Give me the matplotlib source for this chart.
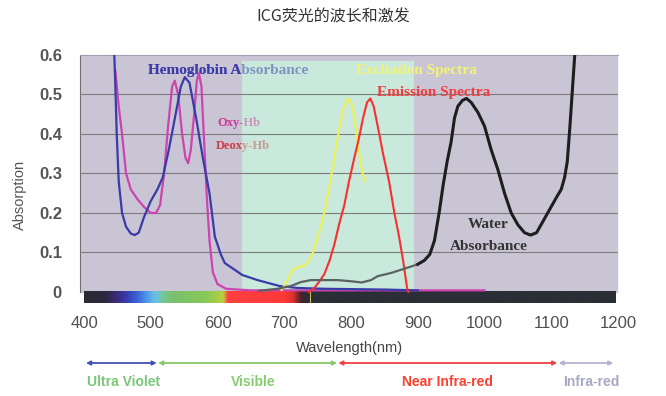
import numpy as np
import matplotlib
matplotlib.use("Agg")
import matplotlib.pyplot as plt
from matplotlib.colors import LinearSegmentedColormap
from matplotlib.patches import Rectangle

plt.rcParams['font.family'] = ['Liberation Sans', 'DejaVu Sans']

# hemoglobin (blue) curve
hb_wl = [445, 447, 449, 452, 457, 463, 470, 476, 482, 490, 500, 510, 518, 527, 535, 545, 551,
         558, 568, 578, 588, 596, 605, 611, 625, 637, 660, 693, 720, 760, 850, 900]
hb_abs = [0.62, 0.52, 0.40, 0.28, 0.20, 0.165, 0.148, 0.144, 0.15, 0.19, 0.23, 0.26, 0.29, 0.36,
          0.43, 0.52, 0.544, 0.53, 0.44, 0.34, 0.25, 0.14, 0.095, 0.073, 0.057, 0.043, 0.03,
          0.015, 0.01, 0.008, 0.006, 0.004]

# oxy-Hb (magenta) curve
oxy_wl = [447, 452, 457, 463, 470, 480, 490, 500, 508, 514, 520, 526, 532, 536, 541, 547, 552,
          556, 560, 565, 569, 572, 576, 580, 584, 588, 593, 600, 613, 650, 1000]
oxy_abs = [0.56, 0.47, 0.40, 0.30, 0.26, 0.235, 0.215, 0.20, 0.20, 0.22, 0.30, 0.42, 0.52, 0.535,
           0.50, 0.40, 0.34, 0.326, 0.36, 0.45, 0.535, 0.555, 0.52, 0.38, 0.24, 0.13, 0.05, 0.02,
           0.008, 0.004, 0.004]

# ICG excitation (yellow)
exc_wl = [696, 705, 712, 720, 730, 738, 745, 752, 760, 768, 775, 782, 788, 795, 800, 805, 810,
          815, 820]
exc_abs = [0.005, 0.03, 0.055, 0.063, 0.066, 0.08, 0.11, 0.15, 0.20, 0.27, 0.34, 0.41, 0.46,
           0.49, 0.48, 0.44, 0.38, 0.32, 0.28]

# ICG emission (red)
emi_wl = [737, 745, 752, 760, 768, 775, 782, 790, 797, 805, 812, 818, 824, 829, 834, 840, 848,
          857, 865, 872, 878, 884, 886]
emi_abs = [0.0, 0.01, 0.025, 0.045, 0.08, 0.12, 0.17, 0.22, 0.28, 0.34, 0.39, 0.44, 0.48, 0.49,
           0.47, 0.42, 0.35, 0.28, 0.20, 0.14, 0.08, 0.01, 0.0]

# water absorbance (gray -> black)
wat_wl = [663, 690, 710, 725, 740, 760, 780, 800, 816, 830, 840, 860, 882, 900, 910, 918, 925,
          932, 938, 944, 950, 955, 960, 967, 973, 980, 990, 1000, 1010, 1020, 1030, 1040, 1050,
          1060, 1069, 1078, 1088, 1098, 1108, 1115, 1120, 1124, 1128, 1132, 1136]
wat_abs = [0.003, 0.008, 0.015, 0.025, 0.03, 0.03, 0.03, 0.027, 0.024, 0.03, 0.04, 0.048, 0.06,
           0.07, 0.08, 0.095, 0.13, 0.20, 0.27, 0.33, 0.38, 0.44, 0.47, 0.485, 0.49, 0.48, 0.455,
           0.42, 0.36, 0.31, 0.25, 0.20, 0.17, 0.15, 0.144, 0.15, 0.18, 0.21, 0.24, 0.26, 0.29,
           0.33, 0.42, 0.52, 0.62]

x_ticks = [400, 500, 600, 700, 800, 900, 1000, 1100, 1200]
y_ticks = [0, 0.1, 0.2, 0.3, 0.4, 0.5, 0.6]
y_ticklabels = ['0', '0.1', '0.2', '0.3', '0.4', '0.5', '0.6']

bands = ['Ultra Violet', 'Visible', 'Near Infra-red', 'Infra-red']
band_start = [403, 511, 781, 1111]
band_end = [509, 779, 1109, 1193]
band_colors = ['#4050b0', '#86c868', '#f04040', '#b4b4d0']
band_text_colors = ['#78c878', '#86cc70', '#ff4030', '#a8a8c4']
band_label_x = [460, 654, 945, 1160]

fig = plt.figure(figsize=(6.66, 3.96), dpi=100)
W, H = 666, 396
ax = fig.add_axes([80 / W, 1 - 303 / H, 538 / W, 248 / H])
ax.set_xlim(394, 1198)
ax.set_ylim(-0.028, 0.6)

# backgrounds
ax.fill_between([394, 1198], 0, 0.6, color='#c9c5d5', zorder=0)
green = Rectangle((637, 0), 895 - 637, 0.585, color='#c8e9dc', lw=0, zorder=3)
ax.add_patch(green)
for yv in y_ticks[1:-1]:
    ax.axhline(yv, color='#7c7c7c', lw=0.8, zorder=3.5)

# hemoglobin labels: full colour on gray, faded where the green band covers them
serif = 'Liberation Serif'
hb_labels = [(496, 0.56, 'Hemoglobin Absorbance', '#3a3aa8', 11),
             (600, 0.428, 'Oxy-Hb', '#d040a0', 9),
             (597, 0.37, 'Deoxy-Hb', '#cc4850', 9)]
for lx, ly, s, c, fs in hb_labels:
    ax.text(lx, ly, s, color=c, fontsize=fs, fontweight='bold', family=serif,
            va='center', zorder=2)
    t = ax.text(lx, ly, s, color=c, fontsize=fs, fontweight='bold', family=serif,
                va='center', zorder=3.6, alpha=0.5)
    t.set_clip_path(green)

# spectrum bar
cmap = LinearSegmentedColormap.from_list('spec', [
    (0.0, '#2a2a35'), ((430 - 400) / 797, '#2c2840'), ((445 - 400) / 797, '#3a2a70'),
    ((460 - 400) / 797, '#3838a8'), ((475 - 400) / 797, '#3a5ad0'), ((490 - 400) / 797, '#4a90e8'),
    ((505 - 400) / 797, '#6ac0e8'), ((515 - 400) / 797, '#70c8a0'), ((530 - 400) / 797, '#78c070'),
    ((580 - 400) / 797, '#88c858'), ((608 - 400) / 797, '#b8d040'), ((614 - 400) / 797, '#ff4040'),
    ((700 - 400) / 797, '#ff3838'), ((712 - 400) / 797, '#e03030'), ((725 - 400) / 797, '#502028'),
    ((735 - 400) / 797, '#2a2e36'), (1.0, '#2a2e36')])
ax.imshow(np.linspace(0, 1, 800)[None, :], cmap=cmap, aspect='auto',
          extent=(400, 1197, -0.028, 0), zorder=4)
ax.plot([738, 738], [-0.028, 0], color='#c8b860', lw=0.8, zorder=5)

# curves
ax.plot(oxy_wl, oxy_abs, color='#cc44b0', lw=1.6, zorder=6)
ax.plot(hb_wl, hb_abs, color='#3a3aa8', lw=1.6, zorder=6)
ax.plot(exc_wl, exc_abs, color='#f0f050', lw=1.5, zorder=6)
ax.plot(emi_wl, emi_abs, color='#f83030', lw=1.5, zorder=6)
k = wat_wl.index(900)
ax.plot(wat_wl[:k + 1], wat_abs[:k + 1], color='#5a6262', lw=1.6, zorder=6)
ax.plot(wat_wl[k:], wat_abs[k:], color='#1e1e1e', lw=2.2, zorder=6)

ax.text(807, 0.562, 'Excitation Spectra', color='#f4f470', fontsize=11, fontweight='bold',
        family=serif, va='center', zorder=7)
ax.text(839, 0.506, 'Emission Spectra', color='#f03c3c', fontsize=11, fontweight='bold',
        family=serif, va='center', zorder=7)
ax.text(1005, 0.17, 'Water', color='#333333', fontsize=11, fontweight='bold',
        family=serif, ha='center', va='center', zorder=7)
ax.text(1007, 0.116, 'Absorbance', color='#333333', fontsize=11, fontweight='bold',
        family=serif, ha='center', va='center', zorder=7)

# axes decoration
for s in ['right', 'bottom']:
    ax.spines[s].set_visible(False)
ax.spines['top'].set_color('#a0a0b0')
ax.spines['top'].set_linewidth(0.8)
ax.spines['left'].set_color('#707070')
ax.spines['left'].set_bounds(0, 0.6)
ax.set_xticks(x_ticks)
ax.set_xticklabels([str(v) for v in x_ticks], fontsize=12, color='#505050')
ax.set_yticks(y_ticks)
ax.set_yticklabels(y_ticklabels, fontsize=12, color='#555555', fontweight='bold')
ax.tick_params(axis='x', length=0, pad=9)
ax.tick_params(axis='y', length=0, pad=13)
ax.set_ylabel('Absorption', fontsize=10.5, color='#555555')
ax.yaxis.set_label_coords(-0.098, 0.435)
ax.set_xlabel('Wavelength(nm)', fontsize=10.5, color='#444444')
ax.xaxis.set_label_coords(0.5, -0.181)
ax.xaxis.label.set_va('center')

# region arrows below the axis
tr = ax.get_xaxis_transform()
for name, x0, x1, c, tc, lx in zip(bands, band_start, band_end, band_colors,
                                     band_text_colors, band_label_x):
    ax.annotate('', xy=(x1, -0.242), xytext=(x0, -0.242), xycoords=tr, textcoords=tr,
                arrowprops=dict(arrowstyle='<|-|>', color=c, lw=1.3, mutation_scale=6,
                                shrinkA=0, shrinkB=0), annotation_clip=False)
    ax.text(lx, -0.319, name, transform=tr, color=tc, fontsize=10, fontweight='bold',
            ha='center', va='center', clip_on=False)

fig.text(0.5, 1 - 17 / H, 'ICG荧光的波长和激发', ha='center', va='center', fontsize=11.5,
         color='#333333', family=['Noto Sans CJK SC', 'DejaVu Sans'])

fig.savefig('out.png', dpi=100, facecolor='white')
